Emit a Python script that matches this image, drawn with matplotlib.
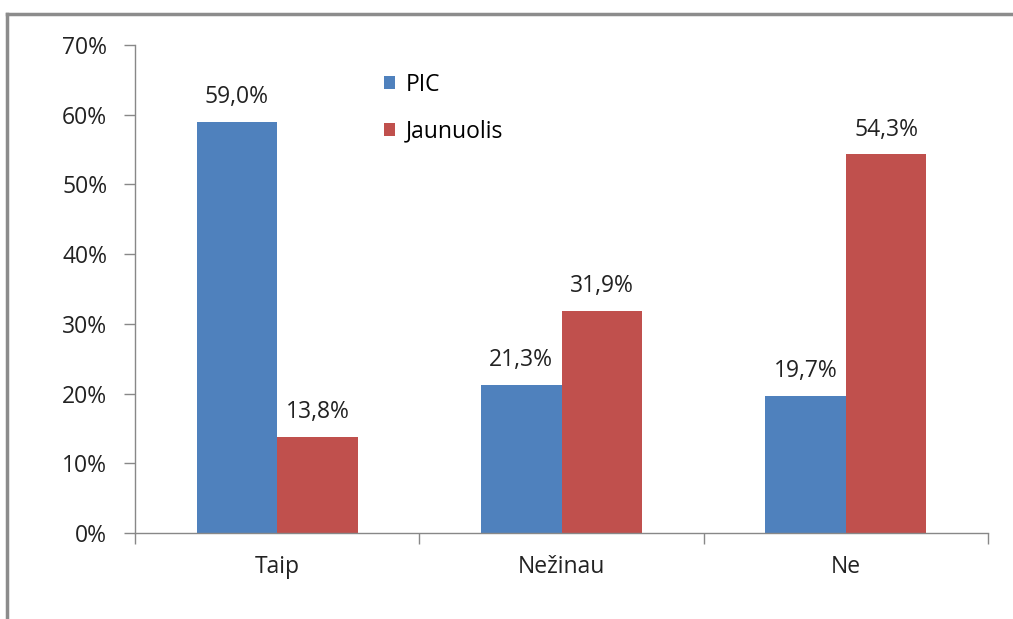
import matplotlib
matplotlib.use("Agg")
import matplotlib.pyplot as plt
import numpy as np
from matplotlib.lines import Line2D

categories = ["Taip", "Nežinau", "Ne"]
series_names = ["PIC", "Jaunuolis"]
pic = [59.0, 21.3, 19.7]
jaunuolis = [13.8, 31.9, 54.3]
yticks = [0, 10, 20, 30, 40, 50, 60, 70]

colors = ["#4F81BD", "#C0504D"]
plt.rcParams['font.family'] = ['Open Sans', 'DejaVu Sans']
FS = 16.5

fig = plt.figure(figsize=(10.13, 6.19), dpi=100)
# outer border
fig.add_artist(Line2D([7/1013, 7/1013], [0, 1 - 14/619], color="#8c8c8c", lw=2.5, transform=fig.transFigure))
fig.add_artist(Line2D([7/1013, 1], [1 - 14/619, 1 - 14/619], color="#8c8c8c", lw=2.5, transform=fig.transFigure))

ax = fig.add_axes([135/1013, 1 - 533/619, (988 - 135)/1013, (533 - 45)/619])
x = np.arange(len(categories))
w = 0.283
b1 = ax.bar(x - w/2, pic, w, color=colors[0], label=series_names[0])
b2 = ax.bar(x + w/2, jaunuolis, w, color=colors[1], label=series_names[1])

for bars, vals in ((b1, pic), (b2, jaunuolis)):
    for r, v in zip(bars, vals):
        ax.annotate(f"{v:.1f}%".replace(".", ","), (r.get_x() + r.get_width()/2, v),
                    xytext=(0, 9), textcoords="offset points", ha="center", va="bottom",
                    fontsize=FS, color="#222222")

ax.set_xlim(-0.5, 2.5)
ax.set_ylim(0, 70)
ax.set_yticks(yticks)
ax.set_yticklabels([f"{t}%" for t in yticks], fontsize=FS, color="#222222")
ax.set_xticks([-0.5, 0.5, 1.5, 2.5])
ax.set_xticklabels([])
ax.set_xticks(x, minor=True)
ax.set_xticklabels(categories, minor=True, fontsize=FS, color="#222222")
ax.tick_params(axis="x", which="minor", length=0, pad=16)
ax.tick_params(axis="x", which="major", length=8, width=1, color="#888888", direction="out")
ax.tick_params(axis="y", length=8, width=1, color="#888888", direction="out", pad=12)
for s in ("top", "right"):
    ax.spines[s].set_visible(False)
for s in ("left", "bottom"):
    ax.spines[s].set_color("#888888")
    ax.spines[s].set_linewidth(1)

leg = ax.legend(loc="upper left", bbox_to_anchor=(0.268, 0.985), frameon=False, fontsize=FS,
                handlelength=0.48, handleheight=0.48, handletextpad=0.45, labelspacing=1.0)

fig.savefig("out.png", dpi=100)
